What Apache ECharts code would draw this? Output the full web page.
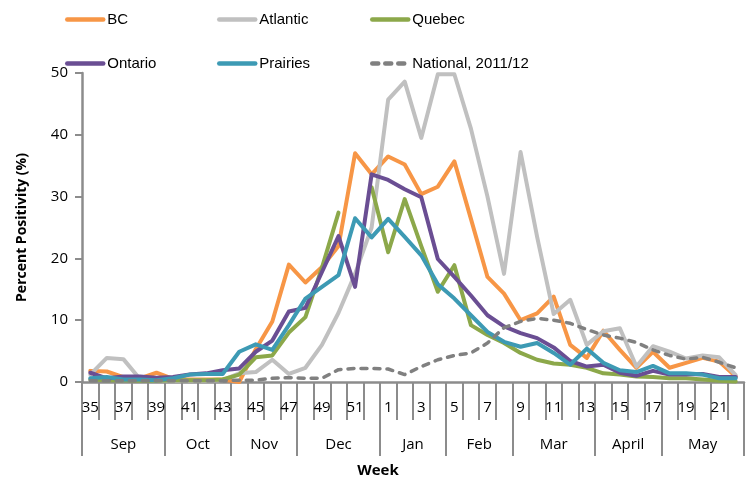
<!DOCTYPE html>
<html>
<head>
<meta charset="utf-8">
<script src="https://cdn.jsdelivr.net/npm/echarts@6/dist/echarts.min.js"></script>
<style>html,body{margin:0;padding:0;background:#fff}#c{width:748px;height:483px}</style>
</head>
<body>
<div id="c"></div>
<script>
var weeks = ['35','36','37','38','39','40','41','42','43','44','45','46','47','48','49','50','51','52',
             '1','2','3','4','5','6','7','8','9','10','11','12','13','14','15','16','17','18','19','20','21','22'];
var monthNames = ['Sep','Oct','Nov','Dec','Jan','Feb','Mar','April','May'];
var monthWeeks = [5,4,4,5,4,4,5,4,5];
var yTicks = [0,10,20,30,40,50];

var bc = [1.8,1.7,0.8,0.6,1.5,0.5,0.4,0.4,0.4,0.0,5.3,9.8,19.0,16.1,18.6,22.0,37.0,33.6,
          36.5,35.2,30.4,31.6,35.7,26.4,17.0,14.3,10.0,11.1,13.8,6.0,3.9,8.3,5.2,2.3,4.9,2.3,3.1,3.9,3.3,0.9];
var atlantic = [1.2,3.9,3.7,0.5,0.2,0.2,0.2,0.2,0.3,1.4,1.6,3.6,1.3,2.3,6.0,11.2,17.5,25.0,
          45.7,48.6,39.5,49.8,49.8,41.0,30.0,17.5,37.2,23.5,11.0,13.3,6.0,8.2,8.7,2.5,5.8,4.9,3.8,4.3,4.0,1.1];
var quebec = [0.4,0.3,0.3,0.2,0.2,0.3,0.3,0.3,0.4,1.2,4.0,4.3,8.0,10.5,18.5,27.4,null,31.5,
          21.0,29.6,22.0,14.6,18.9,9.2,7.6,6.3,4.7,3.6,3.0,2.8,2.3,1.4,1.2,0.9,0.8,0.6,0.6,0.4,0.2,0.1];
var ontario = [1.5,0.6,0.9,0.9,0.7,0.8,1.2,1.4,1.9,2.2,4.9,6.7,11.4,12.0,17.8,23.6,15.4,33.6,
          32.7,31.2,29.9,19.9,17.0,14.0,10.8,9.0,7.9,7.1,5.6,3.4,2.5,2.8,1.5,1.0,1.8,1.2,1.2,1.3,0.8,0.8];
var prairies = [0.6,0.8,0.4,0.4,0.3,0.6,1.2,1.3,1.3,4.9,6.1,5.2,9.2,13.5,15.4,17.3,26.5,23.4,
          26.4,23.5,20.5,15.8,13.5,10.8,8.1,6.5,5.7,6.3,4.7,2.8,5.4,3.1,1.9,1.6,2.6,1.4,1.4,1.2,0.6,0.6];
var national = [0.2,0.2,0.2,0.2,0.2,0.2,0.2,0.2,0.2,0.3,0.3,0.6,0.7,0.6,0.6,2.0,2.2,2.2,
          2.1,1.2,2.5,3.6,4.3,4.7,6.3,8.8,9.8,10.3,10.0,9.5,8.5,7.6,7.1,6.4,5.2,4.3,3.7,4.0,3.2,2.3];

// month axis on half-week positions (boundaryGap false, 0..2*N)
var nHalf = weeks.length * 2;
var monthCats = [];
for (var i = 0; i <= nHalf; i++) monthCats.push('');
var boundaries = {0: true};
var acc = 0;
for (var m = 0; m < monthNames.length; m++) {
  monthCats[2 * acc + monthWeeks[m]] = monthNames[m];
  acc += monthWeeks[m];
  boundaries[2 * acc] = true;
}

var axisGray = '#8c8c8c';
var font = "'Open Sans', sans-serif";
var legendFont = "'Liberation Sans', sans-serif";

function lineSeries(name, data, color, extra) {
  var s = {
    name: name, type: 'line', data: data, xAxisIndex: 0, yAxisIndex: 0,
    symbol: 'none', showSymbol: false, connectNulls: false, animation: false,
    lineStyle: { color: color, width: 4, join: 'round', cap: 'round' },
    itemStyle: { color: color }
  };
  if (extra) s.lineStyle = Object.assign(s.lineStyle, extra);
  return s;
}

function legendCol(left, names) {
  return {
    orient: 'vertical', left: left, top: 12, padding: 0, itemWidth: 36, itemHeight: 14, itemGap: 29,
    data: names, selectedMode: false,
    itemStyle: { opacity: 0 },
    lineStyle: { width: 4.5 },
    textStyle: { fontFamily: legendFont, fontSize: 15, color: '#000', padding: [0, 0, 0, -1] }
  };
}

var chart = echarts.init(document.getElementById('c'), null, { renderer: 'canvas' });
chart.setOption({
  animation: false,
  backgroundColor: '#fff',
  textStyle: { fontFamily: font },
  legend: [
    legendCol(65, ['BC', 'Ontario']),
    legendCol(217, ['Atlantic', 'Prairies']),
    legendCol(370, ['Quebec', 'National, 2011/12'])
  ],
  grid: { left: 82, right: 4, top: 73, bottom: 99, containLabel: false },
  xAxis: [
    {
      type: 'category', data: weeks, boundaryGap: true, position: 'bottom',
      name: 'Week', nameLocation: 'middle', nameGap: 81,
      nameTextStyle: { fontFamily: font, fontSize: 15, fontWeight: 'bold', color: '#000', padding: [0, 70, 0, 0] },
      axisLine: { show: true, lineStyle: { color: axisGray, width: 2.5 } },
      axisTick: { show: true, interval: 0, length: 38, lineStyle: { color: axisGray, width: 2 } },
      axisLabel: { interval: 1, margin: 18, fontSize: 15, color: '#000', fontFamily: font },
      splitLine: { show: false }
    },
    {
      type: 'category', data: monthCats, boundaryGap: false, position: 'bottom',
      axisLine: { show: false },
      axisTick: { show: true, length: 74, interval: function (idx) { return !!boundaries[idx]; },
                  lineStyle: { color: axisGray, width: 2 } },
      axisLabel: { interval: 0, margin: 55, fontSize: 15, color: '#000', fontFamily: font },
      splitLine: { show: false }
    }
  ],
  yAxis: {
    type: 'value', min: yTicks[0], max: yTicks[yTicks.length - 1], interval: 10,
    name: 'Percent Positivity (%)', nameLocation: 'middle', nameGap: 53,
    nameTextStyle: { fontFamily: font, fontSize: 14, fontWeight: 'bold', color: '#000' },
    axisLine: { show: true, lineStyle: { color: axisGray, width: 2.5 } },
    axisTick: { show: true, inside: false, length: 7, lineStyle: { color: axisGray, width: 2 } },
    axisLabel: { margin: 14, fontSize: 15, color: '#000', fontFamily: font },
    splitLine: { show: false }
  },
  series: [
    lineSeries('BC', bc, '#F79646'),
    lineSeries('Atlantic', atlantic, '#C0C0C0'),
    lineSeries('Quebec', quebec, '#8CA84A'),
    lineSeries('Ontario', ontario, '#6A4E93'),
    lineSeries('Prairies', prairies, '#3D9AB4'),
    lineSeries('National, 2011/12', national, '#808080', { width: 3.5, type: [6, 7], cap: 'round' })
  ]
});
</script>
</body>
</html>
